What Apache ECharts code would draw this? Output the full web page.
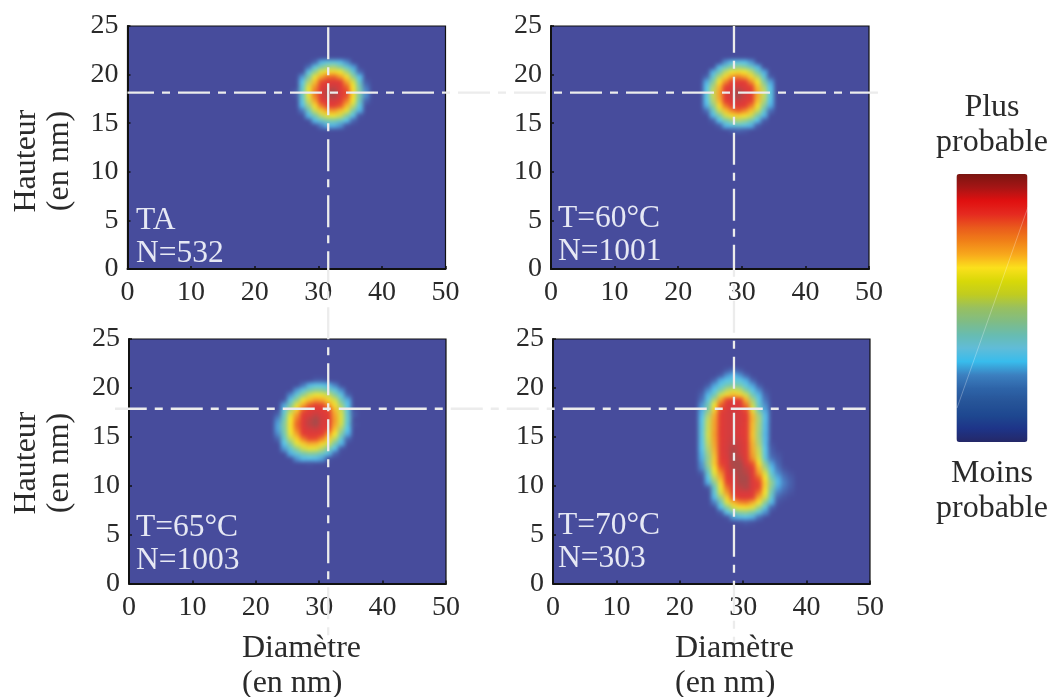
<!DOCTYPE html>
<html><head><meta charset="utf-8">
<style>html,body{margin:0;padding:0;background:#fff}#c{width:1051px;height:697px}</style>
<script src="https://cdn.jsdelivr.net/npm/echarts@6/dist/echarts.min.js"></script>
</head><body><div id="c"></div>
<script>
// Density: 0 = background, 10 = densest. Columns are 1 nm bins, rows 0.5 nm bins.
const xTicksInterval = 10, yTicksInterval = 5;
const p1X = [26,27,28,29,30,31,32,33,34,35,36,37];
const p1Y = [21,20.5,20,19.5,19,18.5,18,17.5,17,16.5,16,15.5,15,14.5];
const p1Z = [
[0,0,0,.3,1.2,1.7,1.8,1.4,.7,0,0,0],
[0,0,.4,1.7,2.7,3.3,3.4,2.9,2.1,.9,0,0],
[0,0,1.7,3.1,4.2,4.9,5,4.5,3.4,2.1,.4,0],
[0,.8,2.7,4.3,5.7,6.8,6.9,5.9,4.7,3.1,1.4,0],
[0,1.5,3.5,5.3,7.4,8.3,8.4,8,5.8,4,2.1,.2],
[0,2,4.1,6.1,8.3,9.1,9.3,8.5,6.9,4.6,2.6,.5],
[.2,2.2,4.3,6.6,8.6,9.8,10,8.9,7.5,4.9,2.8,.7],
[.1,2.1,4.2,6.5,8.5,9.7,9.9,8.8,7.4,4.8,2.7,.7],
[0,1.8,3.8,5.8,8.1,8.8,9,8.3,6.5,4.4,2.4,.3],
[0,1.3,3.2,4.9,6.6,8,8.1,7.2,5.4,3.7,1.8,0],
[0,.5,2.3,3.8,5.1,5.9,6,5.3,4.2,2.7,1.1,0],
[0,0,1.2,2.6,3.7,4.3,4.4,3.9,2.9,1.6,.1,0],
[0,0,0,1.2,2.1,2.7,2.7,2.3,1.5,.3,0,0],
[0,0,0,0,.6,1.1,1.1,.8,.1,0,0,0]];
const p2X = [23,24,25,26,27,28,29,30,31,32,33,34];
const p2Y = [21,20.5,20,19.5,19,18.5,18,17.5,17,16.5,16,15.5,15,14.5,14];
const p2Z = [
[0,0,0,0,.8,1.5,1.6,1.5,.8,0,0,0],
[0,0,0,1.3,2.3,3,3.2,2.9,2.3,1.2,0,0],
[0,0,1.1,2.5,3.7,4.5,4.8,4.5,3.7,2.5,1,0],
[0,.3,2.1,3.6,5,6,6.5,5.9,5,3.6,2,.2],
[0,1,2.8,4.6,6.3,8,8.3,8,6.2,4.5,2.8,.9],
[0,1.5,3.4,5.4,7.8,8.7,9.1,8.7,7.7,5.3,3.4,1.4],
[0,1.7,3.7,5.8,8.3,9.3,10,9.2,8.2,5.7,3.7,1.7],
[0,1.7,3.7,5.8,8.3,9.4,10,9.3,8.2,5.7,3.7,1.7],
[0,1.5,3.5,5.5,8,8.8,9.3,8.8,7.9,5.4,3.5,1.4],
[0,1.1,3,4.8,6.6,8.1,8.4,8.1,6.6,4.7,3,1],
[0,.4,2.2,3.8,5.3,6.3,7,6.3,5.3,3.8,2.2,.4],
[0,0,1.3,2.7,3.9,4.8,5,4.7,3.9,2.7,1.2,0],
[0,0,.2,1.5,2.6,3.2,3.5,3.2,2.6,1.5,.2,0],
[0,0,0,.2,1.2,1.7,2,1.7,1.1,.2,0,0],
[0,0,0,0,0,.2,.3,.2,0,0,0,0]];
const p3X = [23,24,25,26,27,28,29,30,31,32,33,34,35];
const p3Y = [20.5,20,19.5,19,18.5,18,17.5,17,16.5,16,15.5,15,14.5,14,13.5,13,12.5,12];
const p3Z = [
[0,0,0,0,0,0,.2,.2,0,0,0,0,0],
[0,0,0,0,.5,1.2,1.6,1.6,1.2,.6,0,0,0],
[0,0,0,.8,1.8,2.6,3,2.9,2.5,1.8,.7,0,0],
[0,0,.7,2,3.1,3.9,4.4,4.3,3.8,2.9,1.7,.3,0],
[0,.1,1.7,3.1,4.4,5.3,5.9,5.7,5,3.9,2.5,1,0],
[0,.9,2.7,4.2,5.6,7,7.8,7.4,6,4.7,3.2,1.5,0],
[0,1.7,3.4,5.1,7.1,8.3,8.6,8.4,7.5,5.4,3.8,1.9,.1],
[.3,2.2,4.1,6,8.1,8.9,9.4,8.9,8.1,5.8,4,2.1,.2],
[.7,2.5,4.5,6.6,8.5,9.5,10,9.2,8.3,6,4,2.1,0],
[.9,2.8,4.7,6.9,8.6,9.6,10,9.1,8.2,5.8,3.9,2,.1],
[.9,2.7,4.6,6.6,8.4,9.1,9.3,8.7,7.6,5.3,3.4,1.5,0],
[.7,2.5,4.3,5.9,8,8.5,8.5,8.1,6.2,4.5,2.8,1,0],
[.3,2.1,3.7,5.1,6.5,7.5,7.4,6.4,5.1,3.6,2,.3,0],
[0,1.5,2.9,4.2,5.1,5.6,5.5,4.9,3.9,2.6,1.1,0,0],
[0,.8,2.1,3.1,3.9,4.3,4.2,3.6,2.7,1.5,.1,0,0],
[0,0,1,2,2.6,2.9,2.8,2.3,1.4,.3,0,0,0],
[0,0,0,.8,1.3,1.5,1.3,.9,.1,0,0,0,0],
[0,0,0,0,0,.1,0,0,0,0,0,0,0]];
const p4X = [23,24,25,26,27,28,29,30,31,32,33,34,35,36,37];
const p4Y = [21.5,21,20.5,20,19.5,19,18.5,18,17.5,17,16.5,16,15.5,15,14.5,14,13.5,13,12.5,12,11.5,11,10.5,10,9.5,9,8.5,8,7.5,7,6.5,6];
const p4Z = [
[0,0,0,0,.2,.5,.2,0,0,0,0,0],
[0,0,0,.2,.8,1.2,.8,.3,0,0,0,0],
[0,0,.3,1,1.6,2,1.7,1,.3,0,0,0],
[0,.2,.9,1.8,2.5,2.8,2.6,1.8,.9,.2,0,0],
[.1,.7,1.6,2.7,3.6,4,3.7,2.7,1.6,.7,.1,0],
[.3,1.2,2.4,3.9,5,5.4,5.1,3.9,2.5,1.2,.3,0],
[.5,1.8,3.5,5.8,7.7,8.3,8,5.5,3.4,1.7,.5,0],
[.8,2.5,4.5,7,8.6,9,8.7,6.6,3.8,2.1,.7,0],
[1,2.8,5,7.6,8.9,9.2,9,7.4,4.2,2.4,.9,0],
[1.3,3.4,5.6,8.2,9.1,9.2,9.1,8,5.4,3.2,1.2,0],
[1.6,3.7,5.8,8.3,9.1,9.2,9.1,8.2,5.6,3.4,1.3,0],
[1.7,3.8,5.9,8.3,9.1,9.2,9.1,8.1,5.4,3.3,1.2,0],
[1.8,3.8,5.9,8.4,9.1,9.2,9,8.1,5.4,3.3,1.2,0],
[1.8,3.9,6,8.4,9.1,9.2,9,8.1,5.3,3.2,1.1,0],
[1.7,3.8,5.9,8.3,9.1,9.4,9.1,8.1,5.4,3.3,1.2,0],
[1.6,3.7,5.8,8.3,9.1,9.6,9.2,8.2,5.6,3.4,1.3,.1],
[1.5,3.5,5.6,8.2,9.1,9.8,9.2,8.2,5.7,3.7,1.5,.2],
[1.2,3.3,5.4,8.1,9.1,10,9.3,8.3,5.9,3.8,1.7,.3,.1],
[1,3.1,5.2,8,9,10,9.6,8.4,6.2,4,1.9,.5,.2],
[.8,3.2,5.2,7.8,9,10,10,9,7.3,4.9,2.9,.9,.3],
[.7,2.7,4.7,7,8.7,9.8,10,9.5,8.2,5.5,3.4,1.4,.5,.1],
[.2,2.2,4.2,6.2,8.4,9.5,10,9.7,8.5,6,4,2,.7,.3,.1],
[0,1.6,3.6,5.6,8.1,9,10,10,8.8,7,4.6,2.6,1,.5,.2],
[0,1,3,5,7.6,8.9,9.9,9.9,9,7.7,5.1,3.1,1.2,.6,.25],
[0,.1,2.2,4.3,6.7,8.7,9.5,9.8,8.9,7.6,4.9,2.8,.9,.5,.2],
[0,0,2,4,6,8.3,9,9,8.5,6.7,4.5,2.4,.6,.3,.1],
[0,0,1.3,3.2,5.1,7.2,8.2,8.3,7.8,5.6,3.9,2,.3,.1,0],
[0,0,.6,2.3,4.1,5.4,6.3,6.5,5.7,4.4,3,1.2,.1,0,0],
[0,0,0,1.4,2.9,4,4.7,4.8,4.2,3.2,1.9,.3,0,0,0],
[0,0,0,.2,1.6,2.4,3,3.1,2.7,1.9,.7,0,0,0,0],
[0,0,0,0,.1,.9,1.3,1.4,1.1,.4,0,0,0,0,0],
[0,0,0,0,0,0,.1,.2,.1,0,0,0,0,0,0]];
// Crosshair positions in nm
const crossRow1Y = 18.14, crossRow2Y = 17.87, crossCol1X = 31.56, crossCol2X = 28.77;
const panelLabels = ['TA\nN=532','T=60°C\nN=1001','T=65°C\nN=1003','T=70°C\nN=303'];
// Colour per half unit of density, 0 to 10
const heatColors = ['#474c9c','#4a74bc','#52b0e4','#5ac8ee','#62c8d8','#72c8b8','#8ccc98','#b4d470','#dce040','#f8e82c','#f8d82c','#f8b82c','#f49c2a','#f08028','#ec6028','#e84830','#e43c34','#e03a38','#dc3a3c','#c44242','#a84a4a'];
const barColors = ['#242868','#1e3488','#1e4890','#265498','#2e64a8','#3c80c0','#38bcec','#60bcd8','#68bcb0','#80bc84','#98c060','#c0cc20','#d8d808','#fbe01c','#f8a81c','#f08018','#ea5a1c','#e52a20','#e01010','#a51515','#7a1510'];

const SERIF = '"Liberation Serif","DejaVu Serif",serif', INK = '#2a2a2a', BG = '#474c9c';
const boxes = [
  {l:127.5,r:445.5,t:26,b:269, lx:136, ly:204},
  {l:551,r:869,t:26,b:269, lx:558, ly:202},
  {l:129,r:446,t:339,b:583.5, lx:136, ly:511},
  {l:553,r:870,t:339,b:583.5, lx:558, ly:509}];
const xBins = [], yBins = [];
for (let i = 0; i < 50; i++) { xBins.push(String(i)); yBins.push(String(i / 2)); }
const matrices = [[p1X,p1Y,p1Z],[p2X,p2Y,p2Z],[p3X,p3Y,p3Z],[p4X,p4Y,p4Z]];

const grid = [], xAxis = [], yAxis = [], series = [], graphic = [];
boxes.forEach((b, i) => {
  grid.push({left:b.l, top:b.t, width:b.r-b.l, height:b.b-b.t, show:true, zlevel:1, backgroundColor:'transparent', borderColor:'#111', borderWidth:1.2, containLabel:false});
  const line = {show:true, onZero:false, lineStyle:{color:'#111', width:2}};
  xAxis.push({type:'category', gridIndex:i, data:xBins, show:false});
  yAxis.push({type:'category', gridIndex:i, data:yBins, show:false});
  xAxis.push({type:'value', gridIndex:i, min:0, max:50, interval:xTicksInterval, position:'bottom', zlevel:1, z:6,
    axisLine:line, axisTick:{inside:true, length:3, lineStyle:{color:'#111', width:1.5}}, splitLine:{show:false},
    axisLabel:{margin:10, fontFamily:SERIF, fontSize:28, color:INK}});
  yAxis.push({type:'value', gridIndex:i, min:0, max:25, interval:yTicksInterval, position:'left', zlevel:1, z:6,
    axisLine:line, axisTick:{inside:true, length:3, lineStyle:{color:'#111', width:1.5}}, splitLine:{show:false},
    axisLabel:{margin:9, fontFamily:SERIF, fontSize:28, color:INK}});
  const [xs, ys, zs] = matrices[i], data = [];
  zs.forEach((row, r) => row.forEach((v, c) => { if (v > 0) data.push([xBins.indexOf(String(xs[c])), yBins.indexOf(String(ys[r])), v]); }));
  series.push({type:'heatmap', xAxisIndex:2*i, yAxisIndex:2*i, data, silent:true, progressive:0, zlevel:0, z:2, emphasis:{disabled:true}});
  graphic.push({type:'text', zlevel:1, z:30, style:{text:panelLabels[i], x:b.lx, y:b.ly, font:'31.5px '+SERIF, lineHeight:33, fill:'#e6e8f4', textAlign:'left', textVerticalAlign:'top'}});
});
[['Hauteur\n(en nm)',43,161],['Hauteur\n(en nm)',43,463]].forEach(([t,x,y]) => graphic.push({type:'text', x, y, rotation:Math.PI/2, zlevel:1, z:30,
  style:{text:t, font:'32px '+SERIF, lineHeight:33, fill:INK, textAlign:'center', textVerticalAlign:'middle'}}));
[['Diamètre\n(en nm)',242,631],['Diamètre\n(en nm)',675,631]].forEach(([t,x,y]) => graphic.push({type:'text', zlevel:1, z:30,
  style:{text:t, x, y, font:'32px '+SERIF, lineHeight:35, fill:INK, textAlign:'left', textVerticalAlign:'top'}}));
graphic.push({type:'line', zlevel:1, z:40, silent:true, shape:{x1:1028,y1:207,x2:957,y2:408}, style:{stroke:'rgba(255,255,255,.28)', lineWidth:1}});

const chart = echarts.init(document.getElementById('c'), null, {renderer:'canvas'});
chart.setOption({
  animation:false, backgroundColor:BG, grid, xAxis, yAxis, series,
  tooltip:{show:false},
  visualMap:[
    {type:'continuous', show:false, seriesIndex:[0,1,2,3], min:0, max:10, dimension:2, inRange:{color:heatColors}},
    {type:'continuous', show:true, seriesIndex:[], min:0, max:10, calculable:false, hoverLink:false, realtime:false, zlevel:1,
     left:921, top:75, itemWidth:71, itemHeight:268, textGap:14, text:['Plus\nprobable','Moins\nprobable'],
     textStyle:{fontFamily:SERIF, fontSize:32, lineHeight:35, color:INK}, inRange:{color:barColors}}
  ]
});
// Dash-dot crosshairs run across neighbouring panels, so they are placed through each panel's own axes.
const crossStroke = (off) => ({stroke:'#ececec', lineWidth:2.3, lineDash:[32,8,8,8], lineDashOffset:off});
const cross = (panel, a, b, off) => {
  const f = {xAxisIndex:2*panel+1, yAxisIndex:2*panel+1};
  const p = chart.convertToPixel(f, a), q = chart.convertToPixel(f, b);
  graphic.push({type:'line', zlevel:1, z:20, silent:true, shape:{x1:p[0],y1:p[1],x2:q[0],y2:q[1]}, style:crossStroke(off)});
};
cross(0, [0,crossRow1Y], [118,crossRow1Y], 5.5);
cross(2, [-2.2,crossRow2Y], [116.2,crossRow2Y], 0.3);
cross(0, [crossCol1X,25], [crossCol1X,-39], 54.7);
cross(1, [crossCol2X,25], [crossCol2X,-39], 5.3);
chart.setOption({graphic});
// The density layer is softened like the reference raster and shows only inside the four plot frames.
const heatLayer = document.querySelector('#c canvas');
const rects = boxes.map(b => `M${b.l} ${b.t}H${b.r}V${b.b}H${b.l}Z`).join(' ');
heatLayer.style.filter = 'blur(2.2px)';
heatLayer.style.clipPath = `path('${rects}')`;
</script></body></html>
